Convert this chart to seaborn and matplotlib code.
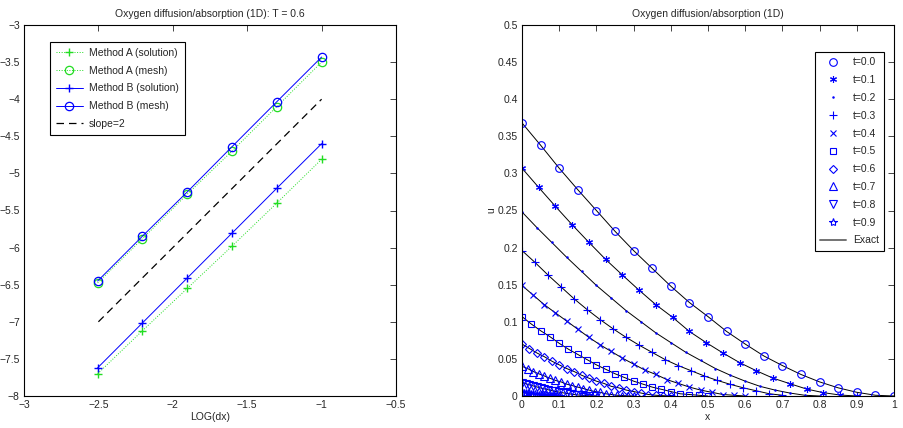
import matplotlib
matplotlib.use('Agg')
import matplotlib.pyplot as plt
from matplotlib.lines import Line2D
from matplotlib.ticker import FuncFormatter
import numpy as np
import seaborn as sns

sns.set_style("white")
plt.rcParams['font.family'] = ['Liberation Sans', 'DejaVu Sans']
plt.rcParams['font.size'] = 7.5

# ---- left panel: convergence, log10(dx) vs log10(error)
log_dx = [-2.505, -2.204, -1.903, -1.602, -1.301, -1.0]
a_solution = [-7.70, -7.12, -6.55, -5.98, -5.40, -4.81]
a_mesh = [-6.475, -5.88, -5.28, -4.70, -4.10, -3.50]
b_solution = [-7.62, -7.015, -6.41, -5.805, -5.20, -4.60]
b_mesh = [-6.45, -5.846, -5.25, -4.64, -4.034, -3.432]
slope_x = [-2.5, -1.0]
slope_y = [-7.0, -4.0]

# ---- right panel: profiles u(x) at several times, 21 nodes on [0, s(t)]
times = ['t=0.0', 't=0.1', 't=0.2', 't=0.3', 't=0.4', 't=0.5', 't=0.6', 't=0.7', 't=0.8', 't=0.9']
boundary = [1.0, 0.9, 0.8, 0.7, 0.6, 0.5, 0.4, 0.3, 0.2, 0.1]
u_t00 = [0.368, 0.338, 0.307, 0.278, 0.250, 0.222, 0.196, 0.172, 0.148, 0.126, 0.107,
         0.087, 0.070, 0.054, 0.041, 0.029, 0.019, 0.011, 0.005, 0.001, 0.0]
u_t01 = [0.307, 0.281, 0.2555, 0.2307, 0.207, 0.184, 0.163, 0.1425, 0.123, 0.106, 0.087,
         0.072, 0.058, 0.045, 0.034, 0.024, 0.0166, 0.0094, 0.0045, 0.0013, 0.0]
u_t02 = [0.248, 0.227, 0.207, 0.187, 0.168, 0.149, 0.132, 0.115, 0.100, 0.085, 0.072,
         0.059, 0.048, 0.037, 0.028, 0.020, 0.013, 0.008, 0.004, 0.001, 0.0]
u_t03 = [0.196, 0.180, 0.163, 0.147, 0.131, 0.1165, 0.103, 0.0905, 0.079, 0.0685, 0.0587,
         0.049, 0.041, 0.034, 0.027, 0.021, 0.0157, 0.011, 0.007, 0.003, 0.001]
u_t04 = [0.149, 0.136, 0.123, 0.112, 0.101, 0.090, 0.079, 0.069, 0.060, 0.051, 0.043,
         0.035, 0.029, 0.022, 0.017, 0.012, 0.008, 0.005, 0.002, 0.001, 0.0]
u_t05 = [0.107, 0.097, 0.088, 0.080, 0.071, 0.063, 0.056, 0.049, 0.042, 0.036, 0.030,
         0.025, 0.020, 0.016, 0.012, 0.009, 0.006, 0.003, 0.002, 0.001, 0.0]
u_t06 = [0.070, 0.064, 0.058, 0.053, 0.047, 0.042, 0.037, 0.033, 0.028, 0.024, 0.020,
         0.017, 0.013, 0.011, 0.008, 0.006, 0.004, 0.002, 0.001, 0.0004, 0.0]
u_t07 = [0.040, 0.037, 0.033, 0.030, 0.027, 0.024, 0.021, 0.019, 0.016, 0.014, 0.012,
         0.010, 0.008, 0.006, 0.005, 0.003, 0.002, 0.001, 0.0006, 0.0002, 0.0]
u_t08 = [0.018, 0.0165, 0.015, 0.0136, 0.0122, 0.0108, 0.0096, 0.0084, 0.0072, 0.0062, 0.0052,
         0.0043, 0.0035, 0.0027, 0.002, 0.0014, 0.001, 0.0006, 0.0003, 0.0001, 0.0]
u_t09 = [0.005, 0.0046, 0.0042, 0.0038, 0.0034, 0.003, 0.0027, 0.0023, 0.002, 0.0017, 0.0015,
         0.0012, 0.001, 0.0008, 0.0006, 0.0004, 0.0003, 0.0002, 0.0001, 0.0, 0.0]
profiles = [u_t00, u_t01, u_t02, u_t03, u_t04, u_t05, u_t06, u_t07, u_t08, u_t09]
markers = ['o', (6, 2, 0), '.', '+', 'x', 's', 'D', '^', 'v', '*']
msizes = [5.5, 5, 2, 5.5, 4, 4.5, 4.5, 5.5, 5.5, 6]

green = '#22dd22'
blue = '#0000ff'

fig = plt.figure(figsize=(9.04, 4.28), dpi=100)
ax1 = fig.add_axes([24 / 904, 1 - 396 / 428, 372 / 904, 371 / 428])
ax2 = fig.add_axes([522 / 904, 1 - 396 / 428, 372 / 904, 371 / 428])

ax1.plot(log_dx, a_solution, color=green, ls=':', lw=0.7, marker='+', ms=6, mew=1.0,
         label='Method A (solution)')
ax1.plot(log_dx, a_mesh, color=green, ls=':', lw=0.7, marker='o', ms=6, mfc='none', mew=0.9,
         label='Method A (mesh)')
ax1.plot(log_dx, b_solution, color=blue, ls='-', lw=0.7, marker='+', ms=6, mew=1.0,
         label='Method B (solution)')
ax1.plot(log_dx, b_mesh, color=blue, ls='-', lw=0.7, marker='o', ms=6, mfc='none', mew=0.9,
         label='Method B (mesh)')
ax1.plot(slope_x, slope_y, color='k', ls=(0, (6, 4)), lw=0.9, label='slope=2')

minus_fmt = FuncFormatter(lambda v, p: ('%g' % round(v, 3)).replace('-', '\u2212'))

ax1.set_xlim(-3, -0.5)
ax1.set_ylim(-8, -3)
ax1.set_xticks(np.arange(-3, -0.49, 0.5))
ax1.set_yticks(np.arange(-8, -2.99, 0.5))
ax1.xaxis.set_major_formatter(minus_fmt)
ax1.yaxis.set_major_formatter(minus_fmt)
ax1.set_xlabel('LOG(dx)')
ax1.set_title('Oxygen diffusion/absorption (1D): T = 0.6', fontsize=7.5)
leg1 = ax1.legend(loc='upper left', bbox_to_anchor=(0.07, 0.954), borderaxespad=0,
                  fancybox=False, edgecolor='k', framealpha=1, handlelength=2.6,
                  borderpad=0.55, labelspacing=0.75, handletextpad=0.6)
leg1.get_frame().set_linewidth(0.8)

for lab, s, u, mk, ms in zip(times, boundary, profiles, markers, msizes):
    xs = np.linspace(0, s, len(u))
    ax2.plot(xs, u, color='k', lw=0.7)
    ax2.plot(xs, u, color=blue, ls='none', marker=mk, ms=ms, mfc='none', mew=0.8, label=lab)

handles, labels = ax2.get_legend_handles_labels()
handles.append(Line2D([], [], color='0.45', lw=1.4))
labels.append('Exact')
leg2 = ax2.legend(handles, labels, loc='upper right', bbox_to_anchor=(0.973, 0.927),
                  borderaxespad=0, fancybox=False, edgecolor='k', framealpha=1,
                  handlelength=2.5, borderpad=0.5, labelspacing=0.75, handletextpad=0.6)
leg2.get_frame().set_linewidth(0.8)

ax2.set_xlim(0, 1)
ax2.set_ylim(0, 0.5)
ax2.set_xticks(np.arange(0, 1.01, 0.1))
ax2.set_yticks(np.arange(0, 0.501, 0.05))
ax2.xaxis.set_major_formatter(minus_fmt)
ax2.yaxis.set_major_formatter(minus_fmt)
ax2.set_xlabel('x')
ax2.set_ylabel('u')
ax2.set_title('Oxygen diffusion/absorption (1D)', fontsize=7.5)

for ax in (ax1, ax2):
    ax.tick_params(direction='in', top=True, right=True, length=4, width=0.6, labelsize=7.5, pad=3)
    for sp in ax.spines.values():
        sp.set_color('k')
        sp.set_linewidth(0.8)
    ax.xaxis.labelpad = 1
    ax.yaxis.labelpad = 1

fig.savefig('out.png', dpi=100)
